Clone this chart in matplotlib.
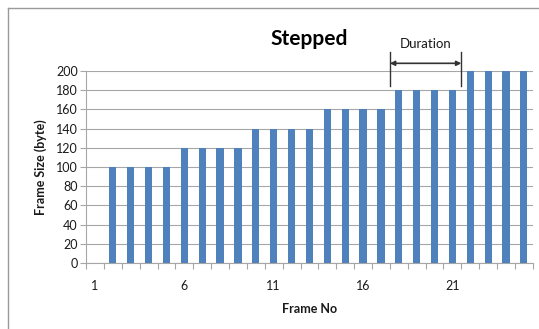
"""Stepped frame-size chart."""

import matplotlib.pyplot as plt
from matplotlib.lines import Line2D

plt.rcParams["font.family"] = ["Lato", "DejaVu Sans"]

frames = list(range(1, 26))
frame_size = [0, 100, 100, 100, 100, 120, 120, 120, 120, 140, 140, 140, 140,
              160, 160, 160, 160, 180, 180, 180, 180, 200, 200, 200, 200]
tick_frames = [1, 6, 11, 16, 21]
y_ticks = list(range(0, 201, 20))
duration_span = (17.5, 21.5)

BAR = "#4F81BD"
GRID = "#A6A6A6"
TEXT = "#1A1A1A"

fig = plt.figure(figsize=(5.39, 3.29), dpi=100)
ax = fig.add_axes([0.1596, 0.2006, 0.829, 0.5836])

ax.bar(frames, frame_size, width=0.4, color=BAR, zorder=3)

ax.set_xlim(0.5, 25.5)
ax.set_ylim(0, 200)
ax.set_yticks(y_ticks)
ax.set_xticks(tick_frames)
ax.set_xticks([f - 0.5 for f in frames] + [25.5], minor=True)
ax.tick_params(axis="x", which="major", length=0, pad=12, labelsize=9, colors=TEXT)
ax.tick_params(axis="x", which="minor", length=4, color=GRID, width=0.8)
ax.tick_params(axis="y", length=4, color=GRID, width=0.8, labelsize=9,
               labelcolor=TEXT, pad=2)
ax.grid(axis="y", color=GRID, lw=0.8, zorder=0)

for side in ("top", "right"):
    ax.spines[side].set_visible(False)
for side in ("left", "bottom"):
    ax.spines[side].set_color(GRID)
    ax.spines[side].set_linewidth(0.8)

ax.set_xlabel("Frame No", fontsize=9, fontweight="bold", color=TEXT, labelpad=8)
ax.set_ylabel("Frame Size (byte)", fontsize=9, fontweight="bold", color=TEXT, labelpad=6)
ax.set_title("Stepped", fontsize=15, fontweight="bold", color="black", pad=19)

# duration marker above the 180 step
x0, x1 = duration_span
for x in duration_span:
    ax.plot([x, x], [184, 220], color="#333333", lw=1, clip_on=False, zorder=4)
ax.annotate("", xy=(x0, 208), xytext=(x1, 208),
            arrowprops=dict(arrowstyle="<|-|>", color="#333333", lw=1.2,
                            mutation_scale=7, shrinkA=0, shrinkB=0),
            annotation_clip=False)
ax.text((x0 + x1) / 2, 222, "Duration", ha="center", va="bottom",
        fontsize=9.5, color=TEXT, clip_on=False)

# chart frame (left and top edges visible in the crop)
fig.add_artist(Line2D([8 / 539, 8 / 539], [0, 1 - 8 / 329],
                      transform=fig.transFigure, color="#9A9A9A", lw=1))
fig.add_artist(Line2D([8 / 539, 1], [1 - 8 / 329, 1 - 8 / 329],
                      transform=fig.transFigure, color="#9A9A9A", lw=1))

fig.savefig("out.png", dpi=100, facecolor="white")
